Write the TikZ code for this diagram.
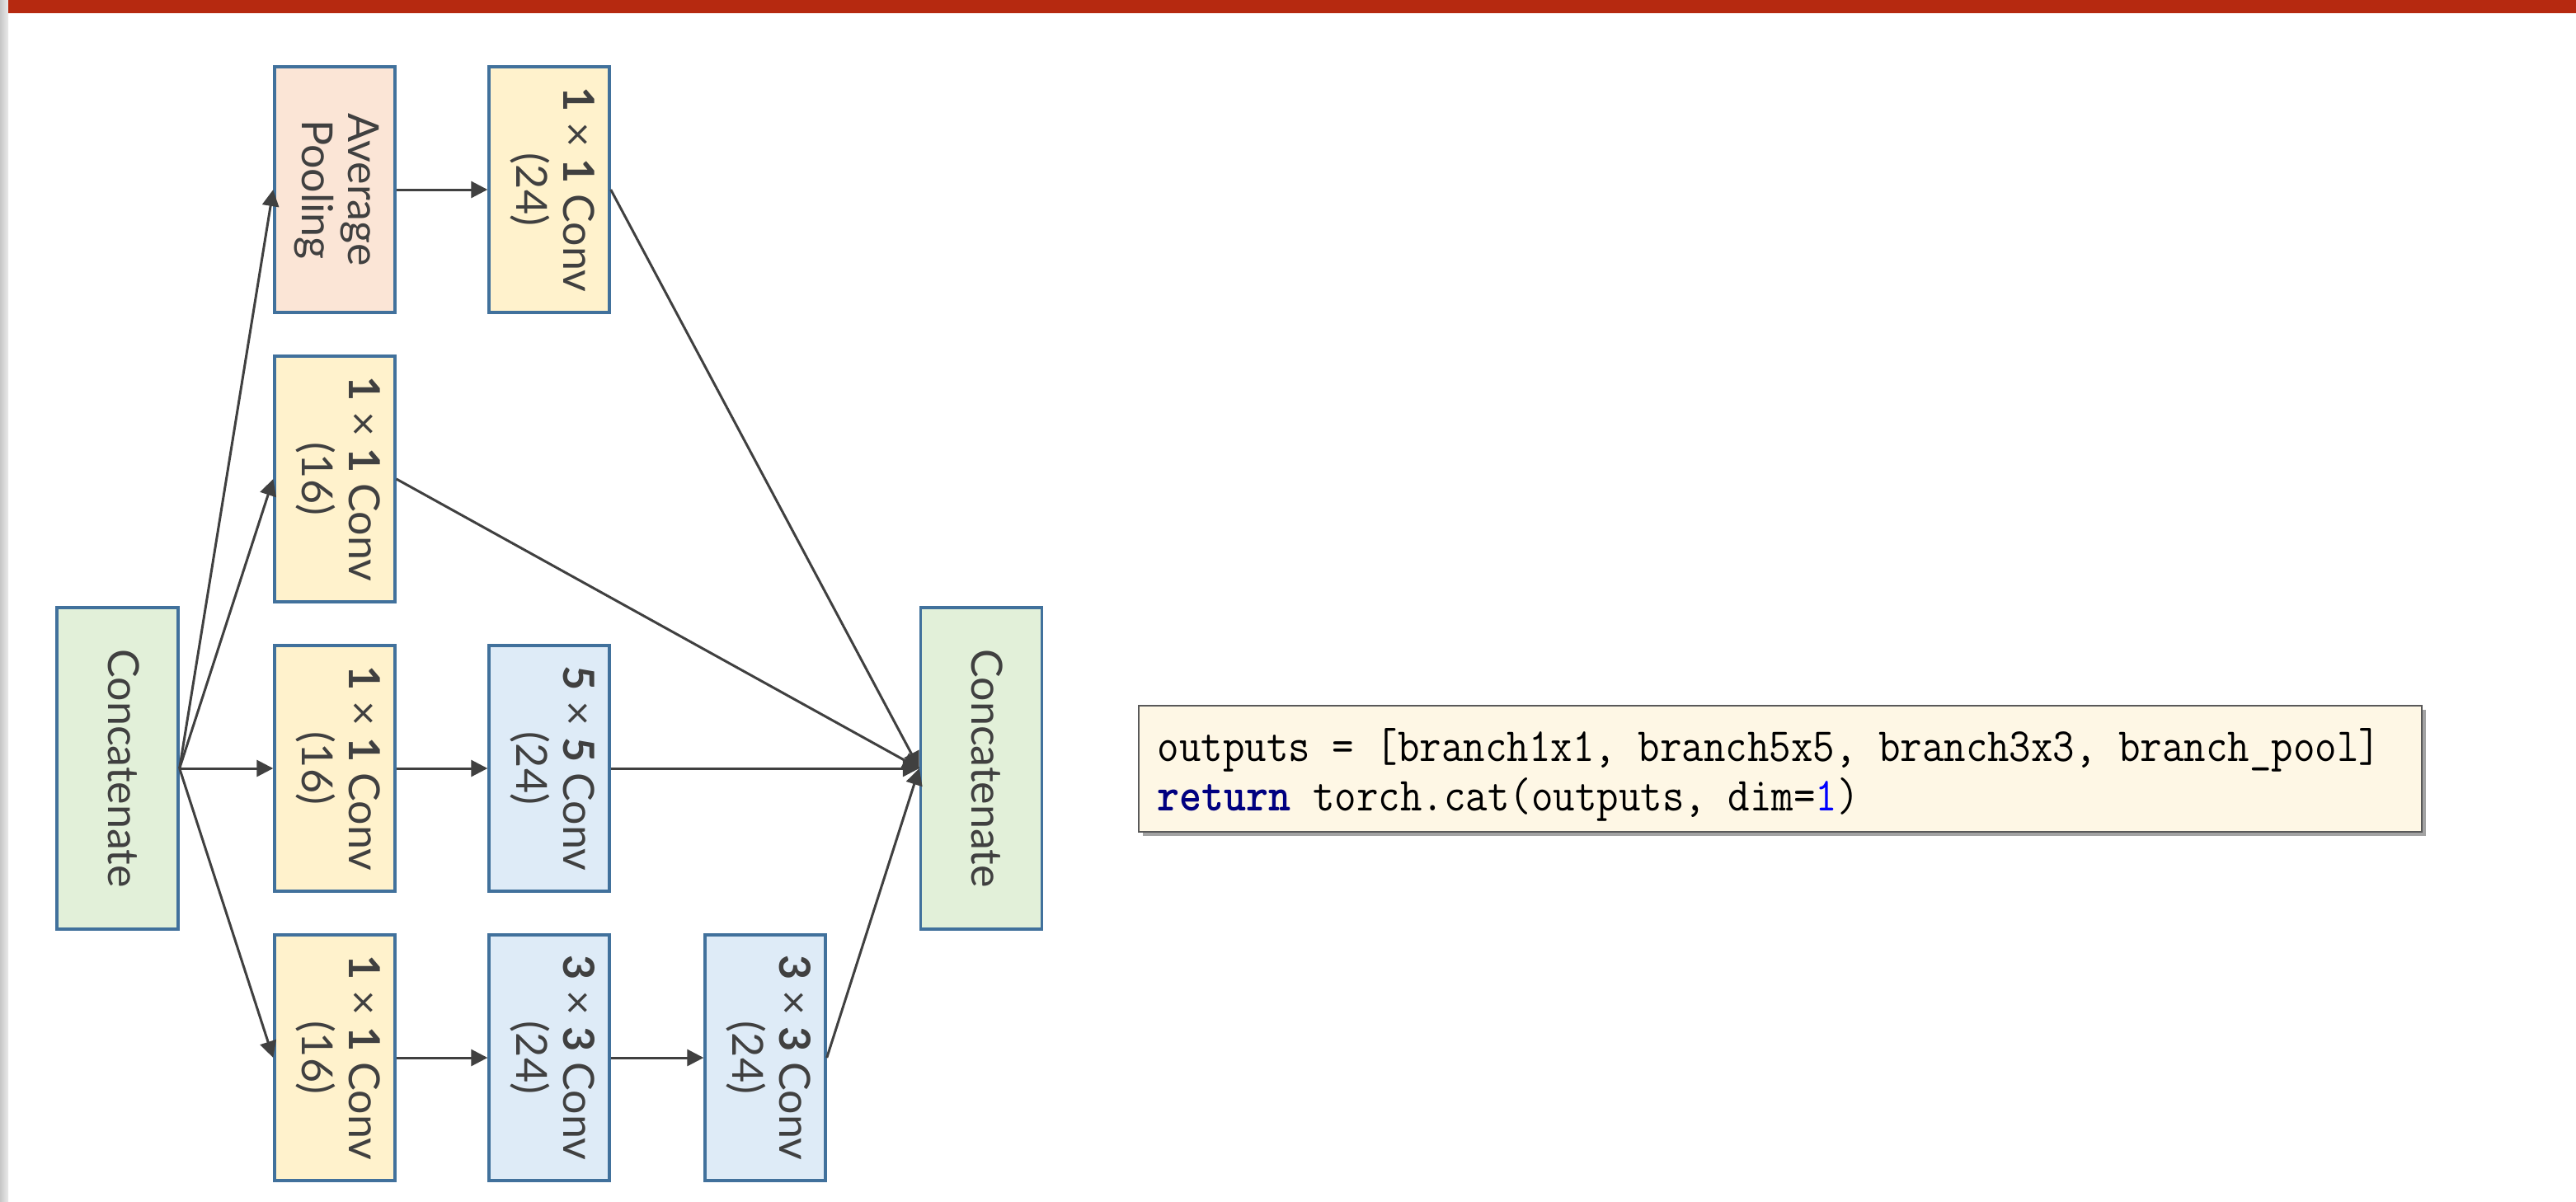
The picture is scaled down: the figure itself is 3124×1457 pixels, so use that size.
\documentclass[tikz,border=0pt]{standalone}
\usepackage{fontspec}
\usepackage{graphicx}
\setmainfont{Lato}
\usetikzlibrary{arrows.meta,shadows,calc}
\definecolor{bordblue}{HTML}{41719C}
\definecolor{txtc}{HTML}{404040}
\definecolor{poolfill}{HTML}{FBE5D6}
\definecolor{onefill}{HTML}{FFF2CC}
\definecolor{convfill}{HTML}{DEEBF7}
\definecolor{catfill}{HTML}{E2F0D9}
\definecolor{arrowc}{HTML}{404040}
\definecolor{codefill}{HTML}{FEF7E5}
\definecolor{codeborder}{HTML}{595959}
\definecolor{redbar}{HTML}{B62910}
\definecolor{kwnavy}{HTML}{000080}
\definecolor{numblue}{HTML}{0000FF}
\newcommand\rtext[1]{\rotatebox{-90}{\begin{tabular}{@{}c@{}}#1\end{tabular}}}
\begin{document}
\begin{tikzpicture}[x=0.25pt,y=-0.25pt,
  blk/.style={draw=bordblue, line width=0.85pt, minimum width=36.5pt, minimum height=74.5pt,
    inner sep=0pt, text=txtc, font=\fontsize{13pt}{14pt}\selectfont},
  poolblk/.style={blk, fill=poolfill},
  oneblk/.style={blk, fill=onefill},
  convblk/.style={blk, fill=convfill},
  catblk/.style={blk, fill=catfill, minimum width=36.75pt, minimum height=97.5pt},
  link/.style={draw=arrowc, line width=0.75pt, -{Triangle[length=5pt,width=5pt]}},
  codebox/.style={draw=codeborder, line width=0.5pt, fill=codefill, minimum width=389pt,
    minimum height=38.25pt, inner sep=0pt,
    drop shadow={shadow xshift=1.2pt, shadow yshift=-1.2pt, fill=black!60, opacity=0.6}},
  codetext/.style={inner sep=0pt, font=\fontsize{12.86pt}{13.4pt}\ttfamily}
]
\useasboundingbox (0,0) rectangle (3124,1457);
\fill[white] (0,0) rectangle (3124,1457);
\shade[left color=black!22, right color=black!8] (0,0) rectangle (10,1457);
\fill[redbar] (10,0) rectangle (3124,16);

% nodes
\node[catblk] (lc) at (142.5,932) {\rtext{Concatenate}};
\node[poolblk] (avg) at (406,230) {\rtext{Average\\Pooling}};
\node[oneblk] (c1) at (666,230) {\rtext{\textbf{1} × \textbf{1} Conv\\(24)}};
\node[oneblk] (b2) at (406,581) {\rtext{\textbf{1} × \textbf{1} Conv\\(16)}};
\node[oneblk] (b3a) at (406,932) {\rtext{\textbf{1} × \textbf{1} Conv\\(16)}};
\node[convblk] (b3b) at (666,932) {\rtext{\textbf{5} × \textbf{5} Conv\\(24)}};
\node[oneblk] (b4a) at (406,1283) {\rtext{\textbf{1} × \textbf{1} Conv\\(16)}};
\node[convblk] (b4b) at (666,1283) {\rtext{\textbf{3} × \textbf{3} Conv\\(24)}};
\node[convblk] (b4c) at (928,1283) {\rtext{\textbf{3} × \textbf{3} Conv\\(24)}};
\node[catblk] (rc) at (1190,932) {\rtext{Concatenate}};

% connectors
\draw[link] (lc.east) -- (avg.west);
\draw[link] (lc.east) -- (b2.west);
\draw[link] (lc.east) -- (b3a.west);
\draw[link] (lc.east) -- (b4a.west);
\draw[link] (avg.east) -- (c1.west);
\draw[link] (b3a.east) -- (b3b.west);
\draw[link] (b4a.east) -- (b4b.west);
\draw[link] (b4b.east) -- (b4c.west);
\draw[link] (c1.east) -- (rc.west);
\draw[link] (b2.east) -- (rc.west);
\draw[link] (b3b.east) -- (rc.west);
\draw[link] (b4c.east) -- (rc.west);

% code box
\node[codebox, anchor=north west] (code) at (1380,855) {};
\node[codetext, anchor=base west] (codetxt) at (1403,923) {\scalebox{1}[1.12]{\begin{tabular}[t]{@{}l@{}}outputs = [branch1x1, branch5x5, branch3x3, branch\_pool]\\
\textcolor{kwnavy}{\bfseries return} torch.cat(outputs, dim=\textcolor{numblue}{1})\end{tabular}}};
\end{tikzpicture}
\end{document}
